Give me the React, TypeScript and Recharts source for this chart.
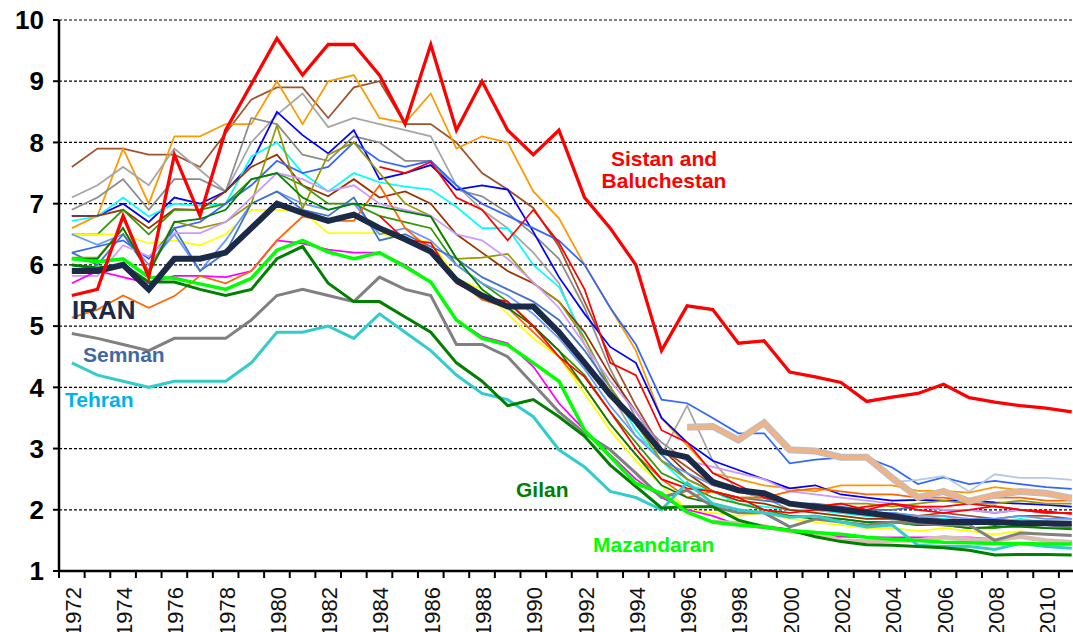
import { LineChart, Line, XAxis, YAxis, CartesianGrid } from 'recharts';

const years = [
  1972, 1973, 1974, 1975, 1976, 1977, 1978, 1979, 1980, 1981,
  1982, 1983, 1984, 1985, 1986, 1987, 1988, 1989, 1990, 1991,
  1992, 1993, 1994, 1995, 1996, 1997, 1998, 1999, 2000, 2001,
  2002, 2003, 2004, 2005, 2006, 2007, 2008, 2009, 2010, 2011,
];

const yTicks = [1, 2, 3, 4, 5, 6, 7, 8, 9, 10];

// highlighted series
const sistan = [5.5, 5.6, 6.8, 5.8, 7.8, 6.8, 8.2, 8.95, 9.7, 9.1, 9.6, 9.6, 9.1, 8.3, 9.6, 8.2, 9.0, 8.2, 7.8, 8.2, 7.1, 6.6, 6.0, 4.6, 5.33, 5.27, 4.72, 4.76, 4.25, 4.17, 4.08, 3.77, 3.84, 3.9, 4.05, 3.83, 3.76, 3.7, 3.66, 3.6];
const iran = [5.9, 5.9, 6.0, 5.6, 6.1, 6.1, 6.2, 6.6, 7.0, 6.85, 6.72, 6.82, 6.6, 6.42, 6.22, 5.75, 5.5, 5.32, 5.32, 4.9, 4.4, 3.88, 3.45, 2.95, 2.86, 2.45, 2.32, 2.27, 2.1, 2.05, 2.0, 1.95, 1.9, 1.83, 1.8, 1.8, 1.8, 1.78, 1.78, 1.77];
const semnan = [4.88, 4.8, 4.7, 4.6, 4.8, 4.8, 4.8, 5.1, 5.5, 5.6, 5.5, 5.4, 5.8, 5.6, 5.5, 4.7, 4.7, 4.5, 4.05, 3.6, 3.25, 2.98, 2.6, 2.2, 2.32, 2.05, 1.95, 1.95, 1.72, 1.85, 1.8, 1.75, 1.8, 1.78, 1.75, 1.75, 1.5, 1.62, 1.6, 1.58];
const tehran = [4.4, 4.2, 4.1, 4.0, 4.1, 4.1, 4.1, 4.4, 4.9, 4.9, 5.0, 4.8, 5.2, 4.9, 4.6, 4.2, 3.9, 3.8, 3.52, 2.98, 2.7, 2.3, 2.2, 2.0, 2.44, 2.1, 2.0, 1.95, 1.88, 1.9, 1.8, 1.72, 1.75, 1.42, 1.4, 1.4, 1.35, 1.45, 1.4, 1.37];
const gilan = [6.0, 5.95, 6.0, 5.72, 5.72, 5.6, 5.5, 5.6, 6.1, 6.3, 5.7, 5.4, 5.4, 5.15, 4.9, 4.4, 4.1, 3.7, 3.8, 3.52, 3.2, 2.73, 2.38, 2.03, 2.05, 2.05, 1.83, 1.72, 1.67, 1.56, 1.48, 1.43, 1.42, 1.4, 1.38, 1.34, 1.26, 1.27, 1.27, 1.26];
const mazandaran = [6.1, 6.05, 6.1, 5.8, 5.78, 5.69, 5.6, 5.78, 6.24, 6.4, 6.21, 6.1, 6.2, 5.97, 5.72, 5.1, 4.8, 4.69, 4.4, 4.1, 3.3, 2.87, 2.43, 2.27, 1.96, 1.8, 1.75, 1.72, 1.66, 1.63, 1.6, 1.55, 1.52, 1.5, 1.47, 1.46, 1.45, 1.45, 1.44, 1.44];

// provinces created later (null before they exist)
const peach = [null, null, null, null, null, null, null, null, null, null, null, null, null, null, null, null, null, null, null, null, null, null, null, null, 3.35, 3.36, 3.14, 3.42, 2.98, 2.96, 2.86, 2.86, 2.52, 2.2, 2.3, 2.14, 2.24, 2.3, 2.27, 2.19];
const rose = [null, null, null, null, null, null, null, null, null, null, null, null, null, null, null, null, null, null, null, null, null, null, null, null, null, 1.8, 1.78, 1.73, 1.65, 1.62, 1.5, 1.48, 1.5, 1.5, 1.55, 1.52, 1.5, 1.56, 1.5, 1.47];
const steel = [null, null, null, null, null, null, null, null, null, null, null, null, null, null, null, null, null, null, null, null, null, null, null, null, null, null, null, null, null, null, null, null, 2.45, 2.49, 2.55, 2.3, 2.58, 2.52, 2.52, 2.49];
const redA = [null, null, null, null, null, null, null, null, null, null, null, null, 6.8, 6.41, 6.36, 5.7, 5.48, 5.4, 5.0, 4.5, 4.17, 3.6, 3.0, 2.5, 2.35, 2.3, 2.2, 2.0, 1.95, 2.0, 2.0, 2.05, 2.1, 2.05, 2.05, 2.1, 2.05, 2.0, 1.95, 1.95];
const redB = [null, null, null, null, null, null, null, null, null, null, null, null, 7.6, 7.5, 7.68, 7.1, 6.9, 6.4, 6.9, 6.36, 5.6, 4.4, 4.2, 3.3, 3.1, 2.6, 2.4, 2.2, 2.1, 2.05, 2.1, 2.0, 2.1, 2.0, 1.95, 2.0, 2.06, 2.0, 1.98, 1.93];

// other provinces
const brownTop = [7.6, 7.9, 7.9, 7.8, 7.8, 7.6, 8.15, 8.7, 8.9, 8.9, 8.4, 8.9, 9.0, 8.3, 8.3, 8.0, 7.5, 7.23, 6.93, 6.3, 5.4, 4.5, 3.7, 3.0, 2.7, 2.4, 2.3, 2.2, 2.1, 2.05, 2.0, 1.95, 1.95, 1.9, 1.95, 1.9, 1.85, 1.9, 1.9, 1.85];
const orange = [6.6, 6.8, 7.9, 7.0, 8.1, 8.1, 8.3, 8.3, 9.0, 8.3, 9.0, 9.1, 8.4, 8.32, 8.8, 7.9, 8.1, 8.0, 7.2, 6.76, 6.0, 5.3, 4.6, 3.5, 3.05, 2.6, 2.5, 2.4, 2.35, 2.3, 2.4, 2.4, 2.4, 2.31, 2.31, 2.28, 2.37, 2.32, 2.28, 2.2];
const grayA = [7.1, 7.3, 7.6, 7.3, 7.9, 7.55, 7.2, 8.0, 8.45, 8.8, 8.25, 8.4, 8.3, 8.2, 8.1, 7.3, 6.9, 6.6, 6.2, 5.7, 4.7, 3.9, 3.2, 2.9, 3.7, 2.8, 2.3, 2.2, 2.1, 2.0, 2.0, 1.95, 1.9, 1.85, 1.9, 1.8, 1.85, 1.8, 1.8, 1.75];
const grayB = [6.9, 7.1, 7.4, 6.9, 7.4, 7.4, 7.2, 8.4, 8.3, 7.8, 7.7, 8.1, 8.0, 7.7, 7.7, 7.23, 7.12, 6.85, 6.5, 6.1, 5.3, 4.3, 3.5, 3.1, 2.8, 2.5, 2.3, 2.2, 2.0, 2.0, 1.95, 1.9, 1.9, 1.85, 1.85, 1.8, 1.8, 1.75, 1.75, 1.7];
const blue = [6.8, 6.8, 7.0, 6.7, 7.1, 7.0, 7.2, 7.66, 8.5, 8.12, 7.82, 8.2, 7.4, 7.5, 7.63, 7.23, 7.3, 7.23, 6.54, 5.8, 5.2, 4.66, 4.4, 3.5, 3.1, 2.8, 2.65, 2.5, 2.35, 2.4, 2.25, 2.2, 2.15, 2.16, 2.15, 2.15, 2.12, 2.1, 2.08, 2.05];
const cyan = [6.72, 6.79, 7.1, 6.79, 7.0, 6.97, 7.0, 7.77, 8.0, 7.5, 7.2, 7.5, 7.35, 7.28, 7.23, 6.95, 6.6, 6.6, 6.0, 5.64, 4.8, 4.0, 3.3, 2.8, 2.4, 2.3, 2.1, 2.05, 2.0, 2.0, 1.95, 1.9, 1.85, 1.8, 1.85, 1.8, 1.8, 1.85, 1.8, 1.8];
const brown = [6.8, 6.8, 6.9, 6.6, 6.91, 6.9, 7.2, 7.6, 7.8, 7.3, 7.12, 7.4, 7.1, 7.2, 7.0, 6.5, 6.2, 5.9, 5.7, 5.4, 4.9, 4.2, 3.6, 3.0, 2.6, 2.3, 2.15, 2.1, 2.0, 1.95, 1.9, 1.85, 1.85, 1.8, 1.8, 1.8, 1.75, 1.8, 1.75, 1.75];
const grass = [6.5, 6.5, 6.9, 6.5, 6.9, 6.9, 7.0, 7.4, 7.5, 7.3, 7.0, 7.0, 6.8, 6.7, 6.6, 6.0, 5.7, 5.4, 5.0, 4.6, 4.2, 3.6, 3.1, 2.6, 2.4, 2.2, 2.1, 2.0, 1.9, 1.9, 1.85, 1.8, 1.8, 1.75, 1.75, 1.7, 1.7, 1.75, 1.7, 1.7];
const yellow = [6.5, 6.5, 6.5, 6.35, 6.4, 6.32, 6.5, 6.9, 6.9, 6.87, 6.52, 6.52, 6.52, 6.41, 6.38, 5.78, 5.6, 5.2, 4.8, 4.5, 3.9, 3.3, 2.8, 2.4, 2.0, 1.95, 1.9, 1.95, 1.85, 1.8, 1.75, 1.7, 1.7, 1.65, 1.7, 1.65, 1.6, 1.65, 1.6, 1.6];
const skyBlue = [6.5, 6.33, 6.5, 6.0, 6.5, 5.9, 6.4, 7.0, 7.2, 7.0, 6.9, 7.0, 6.5, 6.6, 6.4, 6.0, 5.7, 5.5, 5.2, 4.8, 4.3, 3.7, 3.2, 2.8, 2.6, 2.4, 2.3, 2.2, 2.1, 2.05, 2.0, 1.95, 1.95, 1.9, 1.9, 1.85, 1.85, 1.9, 1.85, 1.85];
const royalA = [6.2, 6.3, 6.4, 6.1, 6.6, 6.7, 7.0, 7.3, 7.7, 7.5, 7.6, 8.0, 7.7, 7.6, 7.7, 7.3, 7.0, 6.8, 6.6, 6.4, 6.0, 5.3, 4.7, 3.8, 3.74, 3.5, 3.25, 3.25, 2.76, 2.82, 2.85, 2.85, 2.69, 2.42, 2.53, 2.42, 2.47, 2.42, 2.37, 2.34];
const royalB = [6.2, 6.0, 6.5, 5.9, 6.6, 5.9, 6.2, 7.0, 7.2, 6.9, 6.8, 7.1, 6.4, 6.5, 6.3, 6.1, 5.8, 5.6, 5.4, 5.1, 4.6, 4.0, 3.4, 2.9, 2.5, 2.3, 2.2, 2.15, 2.1, 2.1, 2.05, 2.0, 2.0, 2.05, 2.0, 2.0, 1.95, 2.0, 1.95, 1.95];
const olive = [6.12, 6.12, 6.6, 5.9, 6.71, 6.6, 6.7, 7.0, 8.28, 6.92, 7.8, 8.0, 7.5, 7.0, 6.8, 6.1, 6.12, 6.18, 5.7, 5.4, 4.8, 4.0, 3.4, 2.8, 2.5, 2.3, 2.2, 2.2, 2.1, 2.05, 2.1, 2.1, 2.05, 2.1, 2.15, 2.1, 2.1, 2.15, 2.1, 2.1];
const lavender = [5.82, 5.82, 6.32, 6.14, 6.52, 6.52, 6.7, 7.1, 7.5, 7.4, 7.2, 7.3, 7.0, 6.9, 6.8, 6.5, 6.4, 6.1, 5.72, 5.3, 4.7, 4.1, 3.6, 3.0, 2.8, 2.7, 2.6, 2.5, 2.3, 2.25, 2.2, 2.15, 2.1, 2.05, 2.0, 2.0, 1.95, 2.0, 1.95, 1.95];
const magenta = [5.7, 5.9, 5.8, 5.7, 5.82, 5.82, 5.8, 5.9, 6.4, 6.35, 6.25, 6.2, 6.2, 6.0, 5.72, 5.1, 4.83, 4.72, 4.34, 3.74, 3.3, 2.9, 2.5, 2.2, 2.0, 1.9, 1.75, 1.7, 1.65, 1.6, 1.56, 1.55, 1.55, 1.55, 1.55, 1.55, 1.52, 1.55, 1.5, 1.48];
const tangerine = [5.14, 5.27, 5.5, 5.3, 5.49, 5.82, 5.7, 5.9, 6.4, 6.79, 6.72, 6.72, 7.3, 6.6, 6.24, 5.75, 5.43, 5.3, 4.9, 4.5, 4.0, 3.4, 2.9, 2.5, 2.2, 2.3, 2.2, 2.2, 2.3, 2.35, 2.3, 2.25, 2.25, 2.2, 2.2, 2.15, 2.2, 2.2, 2.15, 2.15];
const forest = [6.1, 6.1, 6.6, 5.85, 6.7, 6.75, 6.9, 7.4, 7.5, 7.1, 6.9, 7.0, 6.95, 6.87, 6.79, 6.11, 5.6, 5.3, 5.0, 4.6, 4.0, 3.4, 2.9, 2.4, 2.2, 2.1, 2.0, 1.95, 1.9, 1.85, 1.85, 1.8, 1.8, 1.75, 1.75, 1.7, 1.72, 1.72, 1.7, 1.68];

const thinSeries = [
  { key: 'brownTop', values: brownTop, color: '#A0522D' },
  { key: 'orange', values: orange, color: '#FF9900' },
  { key: 'grayA', values: grayA, color: '#A6A6A6' },
  { key: 'grayB', values: grayB, color: '#8C8C8C' },
  { key: 'blue', values: blue, color: '#0000FF' },
  { key: 'cyan', values: cyan, color: '#00FFFF' },
  { key: 'brown', values: brown, color: '#993300' },
  { key: 'grass', values: grass, color: '#339900' },
  { key: 'yellow', values: yellow, color: '#FFFF00' },
  { key: 'skyBlue', values: skyBlue, color: '#6699FF' },
  { key: 'royalA', values: royalA, color: '#3366FF' },
  { key: 'royalB', values: royalB, color: '#4472C4' },
  { key: 'olive', values: olive, color: '#999900' },
  { key: 'lavender', values: lavender, color: '#CC99FF' },
  { key: 'magenta', values: magenta, color: '#FF00FF' },
  { key: 'tangerine', values: tangerine, color: '#FF6600' },
  { key: 'forest', values: forest, color: '#008000' },
  { key: 'redA', values: redA, color: '#FF0000' },
  { key: 'redB', values: redB, color: '#FF0000' },
  { key: 'steel', values: steel, color: '#B4C7E7' },
];

const data = years.map((year, i) => {
  const row: any = {
    year,
    sistan: sistan[i],
    iran: iran[i],
    semnan: semnan[i],
    tehran: tehran[i],
    gilan: gilan[i],
    mazandaran: mazandaran[i],
    peach: peach[i],
    rose: rose[i],
  };
  thinSeries.forEach((s) => {
    row[s.key] = s.values[i];
  });
  return row;
});

const boundaryTicks = years.map((y) => y - 0.5);
const labelTicks = years.filter((y) => y % 2 === 0);
const xTicks = [...boundaryTicks, ...labelTicks].sort((a, b) => a - b);

const FONT = '"Liberation Sans", Arial, sans-serif';

function YearTick({ x, y, payload }: any) {
  const v = payload.value;
  if (v % 1 !== 0) {
    return <line x1={x} x2={x} y1={y - 7} y2={y} stroke="#000" strokeWidth={2} />;
  }
  const ax = x + 9;
  const ay = y + 9;
  return (
    <text
      x={ax}
      y={ay}
      transform={`rotate(-90 ${ax} ${ay})`}
      textAnchor="end"
      fontSize={22}
      fontFamily={FONT}
      fill="#111"
    >
      {v}
    </text>
  );
}

export default function App() {
  return (
    <div style={{ position: 'absolute', left: 0, top: 0, width: 1073, height: 632, background: '#fff' }}>
      <LineChart width={1073} height={632} data={data} margin={{ top: 20, right: 0, bottom: 0, left: 0 }}>
        <CartesianGrid vertical={false} stroke="#000" strokeDasharray="3 2" strokeWidth={1.2} />
        <XAxis
          dataKey="year"
          type="number"
          domain={[1971.5, 2011.05]}
          ticks={xTicks}
          interval={0}
          height={61}
          tickLine={false}
          tickSize={7}
          tickMargin={0}
          axisLine={{ stroke: '#000', strokeWidth: 2.5 }}
          tick={<YearTick />}
        />
        <YAxis
          domain={[1, 10]}
          ticks={yTicks}
          interval={0}
          width={59}
          tickSize={6}
          tickMargin={9}
          axisLine={{ stroke: '#000', strokeWidth: 2.5 }}
          tickLine={{ stroke: '#000', strokeWidth: 2 }}
          tick={{ fontSize: 26, fontWeight: 'bold', fill: '#000', fontFamily: FONT }}
        />
        {thinSeries.map((s) => (
          <Line
            key={s.key}
            dataKey={s.key}
            stroke={s.color}
            strokeWidth={1.75}
            dot={false}
            isAnimationActive={false}
          />
        ))}
        <Line dataKey="rose" stroke="#D9BDB5" strokeWidth={4.5} dot={false} isAnimationActive={false} />
        <Line dataKey="peach" stroke="#BFBFBF" strokeWidth={7} dot={false} isAnimationActive={false} />
        <Line dataKey="peach" stroke="#F4B183" strokeWidth={4} dot={false} isAnimationActive={false} />
        <Line dataKey="semnan" stroke="#808080" strokeWidth={3} dot={false} isAnimationActive={false} />
        <Line dataKey="tehran" stroke="#33CCCC" strokeWidth={3} dot={false} isAnimationActive={false} />
        <Line dataKey="gilan" stroke="#008000" strokeWidth={3} dot={false} isAnimationActive={false} />
        <Line dataKey="mazandaran" stroke="#00FF00" strokeWidth={3.5} dot={false} isAnimationActive={false} />
        <Line dataKey="iran" stroke="#1B2B47" strokeWidth={6} dot={false} isAnimationActive={false} />
        <Line dataKey="sistan" stroke="#FF0000" strokeWidth={3.3} dot={false} isAnimationActive={false} />
      </LineChart>
      <svg
        width={1073}
        height={632}
        style={{ position: 'absolute', left: 0, top: 0, pointerEvents: 'none' }}
        fontFamily={FONT}
        fontWeight="bold"
      >
        <text x={664} y={166} textAnchor="middle" fontSize={21} fill="#FF0000">Sistan and</text>
        <text x={664} y={188} textAnchor="middle" fontSize={21} fill="#FF0000">Baluchestan</text>
        <text x={72} y={319} fontSize={26} fill="#1B2B47">IRAN</text>
        <text x={83} y={362} fontSize={21} fill="#41699F">Semnan</text>
        <text x={65} y={407} fontSize={21} fill="#00B0F0">Tehran</text>
        <text x={516} y={497} fontSize={21} fill="#008000">Gilan</text>
        <text x={593} y={552} fontSize={21} fill="#00FF00">Mazandaran</text>
      </svg>
    </div>
  );
}
